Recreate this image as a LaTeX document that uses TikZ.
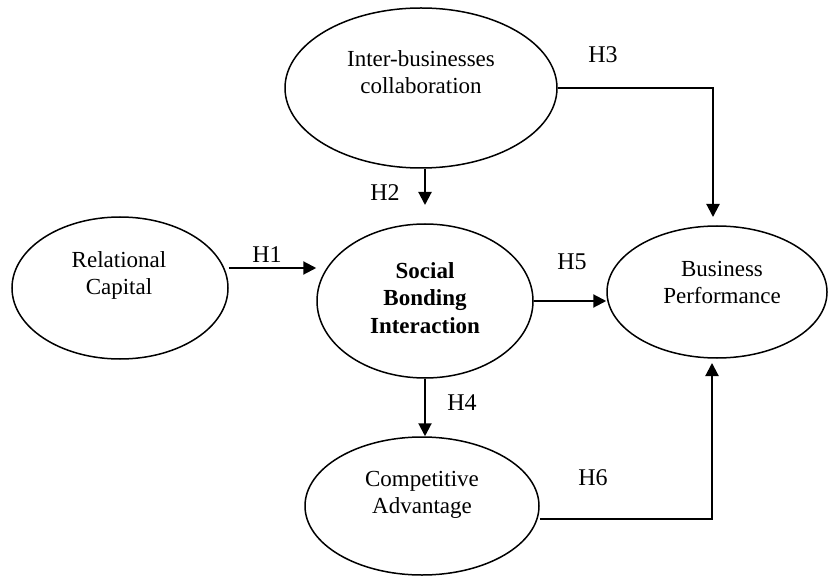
\documentclass[tikz,border=0pt]{standalone}
\usepackage{fontspec}
\setmainfont{Liberation Serif}
\usetikzlibrary{shapes.geometric,arrows.meta}
\begin{document}
\begin{tikzpicture}[x=1pt,y=-1pt,
  oval/.style={draw,ellipse,line width=1.5pt,inner sep=0pt},
  txt/.style={align=center,font=\fontsize{23}{27}\selectfont,inner sep=0pt},
  hlab/.style={font=\fontsize{24}{27}\selectfont,inner sep=0pt},
  arr/.style={line width=2.1pt,-{Triangle[length=13pt,width=13pt]}}]
\useasboundingbox (0,0) rectangle (829,577);
% ellipses
\node[oval,minimum width=272pt,minimum height=160pt] (ibc) at (421,88) {};
\node[oval,minimum width=216pt,minimum height=142pt] (rc) at (120,288) {};
\node[oval,minimum width=216pt,minimum height=154pt] (sbi) at (425,301) {};
\node[oval,minimum width=220pt,minimum height=132pt] (bp) at (717,292) {};
\node[oval,minimum width=234pt,minimum height=138pt] (ca) at (422,506) {};
% texts
\node[txt] (tibc) at (421,72) {Inter-businesses\\collaboration};
\node[txt] (trc) at (119,275) {Relational\\Capital};
\node[txt,font=\fontsize{23}{27.5}\selectfont\bfseries] (tsbi) at (425,298) {Social\\Bonding\\Interaction};
\node[txt] (tbp) at (722,282) {Business\\Performance};
\node[txt] (tca) at (422,495) {Competitive\\Advantage};
% labels
\node[hlab] (h1) at (267,255) {H1};
\node[hlab] (h2) at (385,193) {H2};
\node[hlab] (h3) at (603,55) {H3};
\node[hlab] (h4) at (462,403) {H4};
\node[hlab] (h5) at (572,262) {H5};
\node[hlab] (h6) at (593,478) {H6};
% helper coordinates
\coordinate (l1) at (0,268);
\coordinate (h2tip) at (425,205);
\coordinate (h3tip) at (713,217);
\coordinate (l6) at (0,519);
\coordinate (h6tip) at (712,363);
% connectors
\draw[arr] (rc.east |- l1) -- (sbi.west |- l1);
\draw[arr] (ibc.south -| h2tip) -- (h2tip);
\draw[arr] (ibc.east) -| (h3tip);
\draw[arr] (sbi.east) -- (bp.west |- sbi.east);
\draw[arr] (sbi.south) -- (sbi.south |- ca.north);
\draw[arr] (ca.east |- l6) -| (h6tip);
\end{tikzpicture}
\end{document}
